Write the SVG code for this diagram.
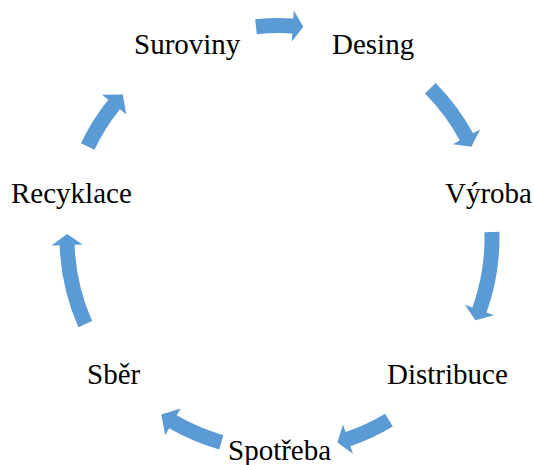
<svg xmlns="http://www.w3.org/2000/svg" width="534" height="465" viewBox="0 0 534 465">
<style>
.lbl{font-family:"Liberation Serif","Times New Roman",serif;font-size:29px;fill:#000}
.arr{fill:#5B9BD5;stroke:none}
</style>
<rect width="534" height="465" fill="#fff"/>
<g id="connectors">
<path class="arr" d="M255.17,19.34 A220,220 0 0 1 293.32,18.44 L293.82,10.46 L303.3,26.84 L291.87,41.39 L292.37,33.41 A205,205 0 0 0 256.83,34.25 Z"/>
<path class="arr" d="M435.61,82.99 A220,220 0 0 1 473.01,133.37 L480.05,129.56 L471.45,146.86 L452.78,144.31 L459.82,140.5 A205,205 0 0 0 424.97,93.56 Z"/>
<path class="arr" d="M499.41,231.86 A220,220 0 0 1 486.49,312.52 L494.02,315.23 L475.4,320.35 L464.85,304.73 L472.38,307.44 A205,205 0 0 0 484.42,232.28 Z"/>
<path class="arr" d="M392.81,426.58 A220,220 0 0 1 350.4,446.26 L352.98,453.84 L337.36,442.47 L342.99,424.49 L345.57,432.06 A205,205 0 0 0 385.08,413.72 Z"/>
<path class="arr" d="M219.23,449.58 A220,220 0 0 1 169.17,428.33 L165.16,435.25 L161.29,414.58 L180.7,408.43 L176.69,415.36 A205,205 0 0 0 223.34,435.16 Z"/>
<path class="arr" d="M78.36,327.13 A220,220 0 0 1 59.62,245.3 L51.63,245.56 L67.04,233.92 L82.61,244.53 L74.61,244.8 A205,205 0 0 0 92.08,321.05 Z"/>
<path class="arr" d="M80.93,143.29 A220,220 0 0 1 108.29,99.85 L102.06,94.83 L122.83,94.44 L126.19,114.29 L119.96,109.27 A205,205 0 0 0 94.47,149.75 Z"/>
</g>
<g id="node-suroviny"><text class="lbl" x="134" y="54">Suroviny</text></g>
<g id="node-desing"><text class="lbl" x="332" y="54">Desing</text></g>
<g id="node-vyroba"><text class="lbl" x="445" y="203">Výroba</text></g>
<g id="node-distribuce"><text class="lbl" x="387" y="384">Distribuce</text></g>
<g id="node-spotreba"><text class="lbl" x="228" y="460">Spotřeba</text></g>
<g id="node-sber"><text class="lbl" x="87" y="384">Sběr</text></g>
<g id="node-recyklace"><text class="lbl" x="11" y="203">Recyklace</text></g>
</svg>
